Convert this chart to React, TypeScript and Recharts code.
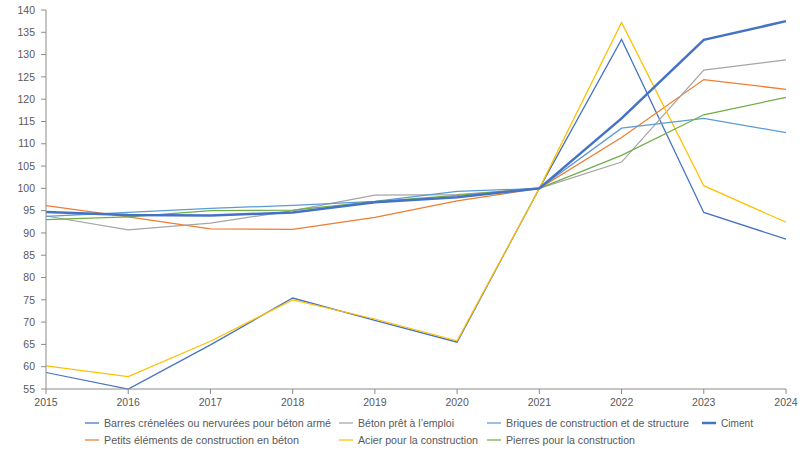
import { LineChart, Line, XAxis, YAxis, Legend } from "recharts"

const years = ["2015", "2016", "2017", "2018", "2019", "2020", "2021", "2022", "2023", "2024"]

const barres = [58.7, 55.0, 64.9, 75.4, 70.4, 65.5, 100, 133.4, 94.6, 88.6]
const petits = [96.1, 93.6, 90.9, 90.8, 93.5, 97.2, 100, 111.4, 124.4, 122.2]
const beton = [93.8, 90.7, 92.2, 95.0, 98.5, 98.6, 100, 105.9, 126.5, 128.8]
const acier = [60.2, 57.8, 65.7, 75.0, 70.7, 65.8, 100, 137.2, 100.6, 92.4]
const briques = [93.7, 94.6, 95.5, 96.2, 97.1, 99.3, 100, 113.5, 115.7, 112.5]
const pierres = [93.0, 93.6, 95.0, 95.1, 97.0, 98.4, 100, 107.4, 116.5, 120.4]
const ciment = [94.7, 94.0, 93.9, 94.6, 96.9, 98.0, 100, 115.7, 133.3, 137.5]

const yTicks = [55, 60, 65, 70, 75, 80, 85, 90, 95, 100, 105, 110, 115, 120, 125, 130, 135, 140]

// drawn in this order (Excel series order), Ciment on top
const series = [
  { key: "barres", name: "Barres crénelées ou nervurées  pour béton armé", values: barres, color: "#4472C4", width: 1.25 },
  { key: "petits", name: "Petits éléments de construction en béton", values: petits, color: "#ED7D31", width: 1.25 },
  { key: "beton", name: "Béton prêt à l’emploi", values: beton, color: "#A5A5A5", width: 1.25 },
  { key: "acier", name: "Acier pour la construction", values: acier, color: "#FFC000", width: 1.25 },
  { key: "briques", name: "Briques de construction et de structure", values: briques, color: "#5B9BD5", width: 1.25 },
  { key: "pierres", name: "Pierres pour la construction", values: pierres, color: "#70AD47", width: 1.25 },
  { key: "ciment", name: "Ciment", values: ciment, color: "#4472C4", width: 2.5 },
]

const data = years.map((year, i) => {
  const row: Record<string, string | number> = { year }
  series.forEach(s => { row[s.key] = s.values[i] })
  return row
})

// legend slot per series: column x, row, text width
const LEGEND_SLOTS: Record<string, { x: number; row: number; w: number }> = {
  barres: { x: 85, row: 0, w: 227 },
  beton: { x: 339, row: 0, w: 96 },
  briques: { x: 487, row: 0, w: 183 },
  ciment: { x: 702, row: 0, w: 32 },
  petits: { x: 85, row: 1, w: 195 },
  acier: { x: 339, row: 1, w: 120 },
  pierres: { x: 487, row: 1, w: 129 },
}

const renderLegend = () => (
  <svg width={800} height={40} style={{ display: "block" }}>
    {series.map(s => {
      const slot = LEGEND_SLOTS[s.key]
      const y = 14 + slot.row * 17
      return (
        <g key={s.key}>
          <line x1={slot.x} x2={slot.x + 14} y1={y} y2={y} stroke={s.color} strokeWidth={s.width} />
          <text
            x={slot.x + 19}
            y={y}
            dy="0.35em"
            fontSize={11.5}
            fill="#595959"
            textLength={slot.w}
            lengthAdjust="spacingAndGlyphs"
          >
            {s.name}
          </text>
        </g>
      )
    })}
  </svg>
)

export default function App() {
  return (
    <div style={{ position: "absolute", left: 0, top: 0, width: 800, height: 450, background: "#fff", fontFamily: "'Liberation Sans', Arial, sans-serif" }}>
      <LineChart width={800} height={450} data={data} margin={{ top: 10, right: 14, bottom: 1, left: 0 }}>
        <XAxis
          dataKey="year"
          stroke="#8C8C8C"
          tickSize={5}
          tickMargin={5}
          height={20}
          interval={0}
          tick={{ fill: "#595959", fontSize: 10.5 }}
        />
        <YAxis
          domain={[55, 140]}
          ticks={yTicks}
          width={46}
          stroke="#8C8C8C"
          tickSize={5}
          tickMargin={6}
          interval={0}
          tick={{ fill: "#595959", fontSize: 10.5 }}
        />
        <Legend verticalAlign="bottom" content={renderLegend} wrapperStyle={{ left: 0, width: 800 }} />
        {series.map(s => (
          <Line
            key={s.key}
            type="linear"
            dataKey={s.key}
            name={s.name}
            stroke={s.color}
            strokeWidth={s.width}
            dot={false}
            isAnimationActive={false}
          />
        ))}
      </LineChart>
    </div>
  )
}
